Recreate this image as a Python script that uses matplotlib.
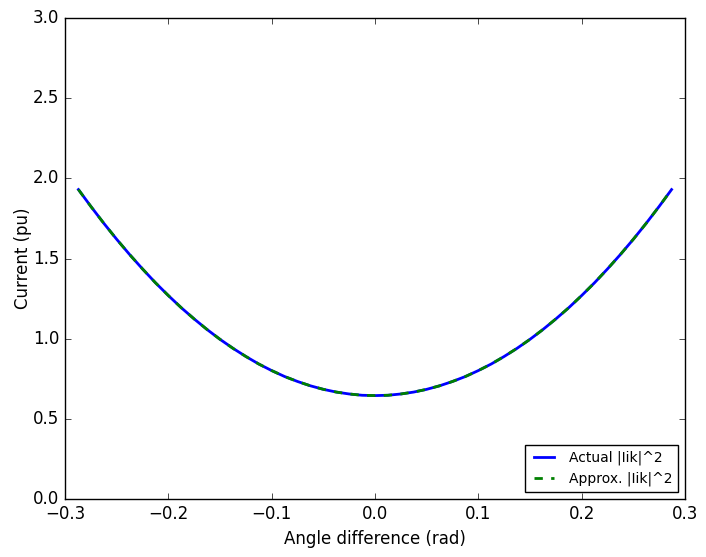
import matplotlib
matplotlib.use('Agg')
import matplotlib.pyplot as plt

plt.style.use('classic')

# angle difference (rad) and |Iik|^2
angle = [-0.287, -0.275, -0.2625, -0.25, -0.2375, -0.225, -0.2125, -0.2,
         -0.1875, -0.175, -0.1625, -0.15, -0.1375, -0.125, -0.1125, -0.1,
         -0.0875, -0.075, -0.0625, -0.05, -0.0375, -0.025, -0.0125, 0.0,
         0.0125, 0.025, 0.0375, 0.05, 0.0625, 0.075, 0.0875, 0.1,
         0.1125, 0.125, 0.1375, 0.15, 0.1625, 0.175, 0.1875, 0.2,
         0.2125, 0.225, 0.2375, 0.25, 0.2625, 0.275, 0.287]
actual = [1.930, 1.825, 1.720, 1.620, 1.525, 1.435, 1.349, 1.269,
          1.193, 1.123, 1.057, 0.996, 0.940, 0.889, 0.842, 0.801,
          0.764, 0.733, 0.706, 0.684, 0.667, 0.655, 0.647, 0.645,
          0.647, 0.655, 0.667, 0.684, 0.706, 0.733, 0.764, 0.801,
          0.842, 0.889, 0.940, 0.996, 1.057, 1.123, 1.193, 1.269,
          1.349, 1.435, 1.525, 1.620, 1.720, 1.825, 1.930]
approx = [1.930, 1.825, 1.720, 1.620, 1.525, 1.435, 1.349, 1.269,
          1.193, 1.123, 1.057, 0.996, 0.940, 0.889, 0.842, 0.801,
          0.764, 0.733, 0.706, 0.684, 0.667, 0.655, 0.647, 0.645,
          0.647, 0.655, 0.667, 0.684, 0.706, 0.733, 0.764, 0.801,
          0.842, 0.889, 0.940, 0.996, 1.057, 1.123, 1.193, 1.269,
          1.349, 1.435, 1.525, 1.620, 1.720, 1.825, 1.930]


def main():
  fig = plt.figure(figsize=(7.06, 5.57), dpi=100, facecolor='white')
  ax = fig.add_axes([65/706., 1 - 499/557., 620/706., 481/557.])
  ax.plot(angle, actual, 'b-', linewidth=2, label='Actual |Iik|^2')
  ax.plot(angle, approx, 'g--', linewidth=2, label='Approx. |Iik|^2')
  ax.set_xlim(-0.3, 0.3)
  ax.set_ylim(0, 3.0)
  ax.set_xlabel('Angle difference (rad)', fontsize=12)
  ax.set_ylabel('Current (pu)', fontsize=12)
  ax.yaxis.labelpad = 1
  ax.tick_params(labelsize=12)
  ax.legend(loc='lower right', fontsize=10, fancybox=False, shadow=False)
  fig.savefig('out.png', dpi=100, facecolor='white')


if __name__ == "__main__":
  main()
